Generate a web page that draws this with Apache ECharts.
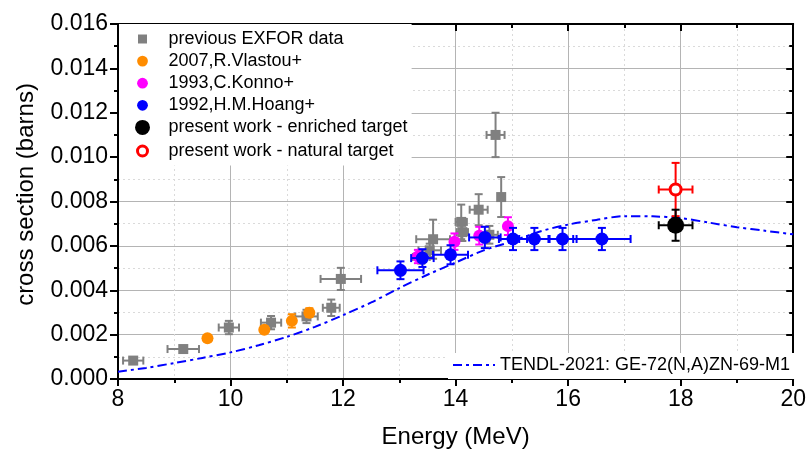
<!DOCTYPE html>
<html><head><meta charset="utf-8">
<script src="https://cdn.jsdelivr.net/npm/echarts@6/dist/echarts.min.js"></script>
<style>html,body{margin:0;padding:0;background:#fff}#c{width:809px;height:454px}</style>
</head><body><div id="c"></div>
<script>
// Each point: [energy (MeV), cross section (b), energy error, cross-section error]
const exforData = [
  [8.27, 0.00083, 0.18, 0.0001],
  [9.16, 0.00135, 0.28, 0.0001],
  [9.97, 0.00232, 0.18, 0.0003],
  [10.72, 0.00254, 0.18, 0.0003],
  [11.35, 0.00282, 0.20, 0.0003],
  [11.79, 0.00321, 0.15, 0.00037],
  [11.96, 0.00451, 0.36, 0.0005],
  [13.39, 0.00550, 0.15, 0.0003],
  [13.54, 0.00580, 0.20, 0.0003],
  [13.60, 0.00630, 0.30, 0.00088],
  [14.10, 0.00708, 0.10, 0.00078],
  [14.12, 0.00662, 0.10, 0.0004],
  [14.41, 0.00763, 0.16, 0.0007],
  [14.60, 0.00650, 0.15, 0.0004],
  [14.71, 0.01100, 0.16, 0.001],
  [14.81, 0.00820, 0.05, 0.0009]
];
const vlastouData = [
  [9.59, 0.00184, 0, 0.0001],
  [10.60, 0.00222, 0, 0.0001],
  [11.09, 0.00262, 0, 0.0003],
  [11.40, 0.00299, 0, 0.0002]
];
const konnoData = [
  [13.33, 0.00552, 0, 0.0003],
  [13.98, 0.00619, 0, 0.00037],
  [14.42, 0.00646, 0, 0.0004],
  [14.93, 0.00689, 0, 0.0004]
];
const hoangData = [
  [13.02, 0.00490, 0.41, 0.0004],
  [13.41, 0.00545, 0.20, 0.0004],
  [13.91, 0.00560, 0.31, 0.00043],
  [14.52, 0.00638, 0.28, 0.00048],
  [15.02, 0.00631, 0.25, 0.0005],
  [15.40, 0.00631, 0.27, 0.0005],
  [15.90, 0.00631, 0.25, 0.0005],
  [16.60, 0.00631, 0.51, 0.0005]
];
const enrichedData = [[17.91, 0.00693, 0.30, 0.0007]];
const naturalData = [[17.91, 0.00854, 0.30, 0.0012]];

const tendlEnergy = [8.0, 8.5, 9.0, 9.5, 10.0, 10.5, 11.0, 11.5, 12.0, 12.5, 13.0, 13.5, 14.0, 14.5, 15.0, 15.5, 16.0, 16.5, 17.0, 17.5, 18.0, 18.5, 19.0, 19.5, 20.0];
const tendlXs = [0.00033, 0.00050, 0.00072, 0.00095, 0.00120, 0.00152, 0.00190, 0.00235, 0.00288, 0.00345, 0.00410, 0.00470, 0.00525, 0.00580, 0.00620, 0.00665, 0.00696, 0.00717, 0.00734, 0.00733, 0.00725, 0.00705, 0.00684, 0.00668, 0.00652];

const seriesNames = ['previous EXFOR data', '2007,R.Vlastou+', '1993,C.Konno+', '1992,H.M.Hoang+', 'present work - enriched target', 'present work - natural target'];
const tendlName = 'TENDL-2021: GE-72(N,A)ZN-69-M1';
const xMin = 8, xMax = 20, xStep = 2;
const yMin = 0, yMax = 0.016, yStep = 0.002;

const FONT = 'Liberation Sans, Arial, sans-serif';

function makeRender(st) {
  return function (params, api) {
    const x = api.value(0), y = api.value(1), dx = api.value(2), dy = api.value(3);
    const c = api.coord([x, y]);
    const cap = 4;
    const ls = { stroke: st.bar, lineWidth: 2 };
    const ch = [];
    if (dx > 0) {
      const l = api.coord([x - dx, y]), r = api.coord([x + dx, y]);
      ch.push({ type: 'line', shape: { x1: l[0], y1: c[1], x2: r[0], y2: c[1] }, style: ls });
      ch.push({ type: 'line', shape: { x1: l[0], y1: c[1] - cap, x2: l[0], y2: c[1] + cap }, style: ls });
      ch.push({ type: 'line', shape: { x1: r[0], y1: c[1] - cap, x2: r[0], y2: c[1] + cap }, style: ls });
    }
    if (dy > 0) {
      const t = api.coord([x, y + dy]), b = api.coord([x, y - dy]);
      ch.push({ type: 'line', shape: { x1: c[0], y1: t[1], x2: c[0], y2: b[1] }, style: ls });
      ch.push({ type: 'line', shape: { x1: c[0] - cap, y1: t[1], x2: c[0] + cap, y2: t[1] }, style: ls });
      ch.push({ type: 'line', shape: { x1: c[0] - cap, y1: b[1], x2: c[0] + cap, y2: b[1] }, style: ls });
    }
    if (st.shape === 'rect') {
      ch.push({ type: 'rect', shape: { x: c[0] - st.size / 2, y: c[1] - st.size / 2, width: st.size, height: st.size }, style: { fill: st.fill } });
    } else {
      ch.push({ type: 'circle', shape: { cx: c[0], cy: c[1], r: st.r }, style: { fill: st.fill, stroke: st.stroke || null, lineWidth: st.sw || 0 } });
    }
    return { type: 'group', children: ch };
  };
}

function errSeries(name, data, st, z) {
  return {
    name: name, type: 'custom', data: data, z: z,
    encode: { x: 0, y: 1 },
    itemStyle: { color: st.stroke || st.fill },
    renderItem: makeRender(st)
  };
}

const BOX = 'path://M0,0L0,0M42,18L42,18';
function circ(r) { return BOX + 'M' + (21 - r) + ',9A' + r + ',' + r + ',0,1,1,' + (21 + r) + ',9A' + r + ',' + r + ',0,1,1,' + (21 - r) + ',9Z'; }
const sqIcon = BOX + 'M16.5,4.5L25.5,4.5L25.5,13.5L16.5,13.5Z';

const axisLineStyle = { color: '#000', width: 2 };

const option = {
  animation: false,
  backgroundColor: '#fff',
  grid: { left: 118, right: 15, top: 24, bottom: 72 },
  legend: [
    {
      left: 119, top: 24, orient: 'vertical',
      padding: [6, 4, 4, 1],
      backgroundColor: '#fff',
      itemWidth: 42, itemHeight: 18, itemGap: 4.1,
      textStyle: { fontFamily: FONT, fontSize: 18, color: '#000' },
      data: [
        { name: seriesNames[0], icon: sqIcon, itemStyle: { color: '#808080' } },
        { name: seriesNames[1], icon: circ(5.4), itemStyle: { color: '#ff8c00' } },
        { name: seriesNames[2], icon: circ(5.4), itemStyle: { color: '#ff00ff' } },
        { name: seriesNames[3], icon: circ(5.4), itemStyle: { color: '#0000ff' } },
        { name: seriesNames[4], icon: circ(7.5), itemStyle: { color: '#000' } },
        { name: seriesNames[5], icon: circ(5), itemStyle: { color: '#fff', borderColor: '#ff0000', borderWidth: 3 } }
      ]
    },
    {
      left: 448, top: 353,
      padding: [3, 8, 5, 4],
      backgroundColor: '#fff',
      itemWidth: 42, itemHeight: 18,
      textStyle: { fontFamily: FONT, fontSize: 18, color: '#000' },
      data: [{ name: tendlName, itemStyle: { color: 'rgba(0,0,0,0)', borderWidth: 0, opacity: 0 } }]
    }
  ],
  xAxis: [
    {
      type: 'value', min: xMin, max: xMax, interval: xStep,
      name: 'Energy (MeV)', nameLocation: 'middle', nameGap: 46,
      nameTextStyle: { fontFamily: FONT, fontSize: 24, color: '#000' },
      axisLine: { show: true, onZero: false, lineStyle: axisLineStyle },
      axisTick: { show: true, length: 7, lineStyle: { color: '#000', width: 2 } },
      minorTick: { show: true, splitNumber: 2, length: 4, lineStyle: { color: '#000', width: 2 } },
      axisLabel: { fontFamily: FONT, fontSize: 23, color: '#000', margin: 9 },
      splitLine: { show: true, lineStyle: { color: '#b4b4b4', width: 1 } },
      minorSplitLine: { show: true, lineStyle: { color: '#dadada', width: 1, type: [2, 3] } }
    },
    {
      type: 'value', position: 'top', min: xMin, max: xMax, interval: xStep,
      axisLine: { show: true, onZero: false, lineStyle: axisLineStyle },
      axisTick: { show: true, inside: true, length: 7, lineStyle: { color: '#000', width: 2 } },
      minorTick: { show: true, splitNumber: 2, length: 4, lineStyle: { color: '#000', width: 2 } },
      axisLabel: { show: false },
      splitLine: { show: false }
    }
  ],
  yAxis: [
    {
      type: 'value', min: yMin, max: yMax, interval: yStep,
      name: 'cross section (barns)', nameLocation: 'middle', nameGap: 80,
      nameTextStyle: { fontFamily: FONT, fontSize: 24, color: '#000', padding: [0, 0, 0, 14] },
      axisLine: { show: true, onZero: false, lineStyle: axisLineStyle },
      axisTick: { show: true, length: 8, lineStyle: { color: '#000', width: 2 } },
      minorTick: { show: true, splitNumber: 2, length: 4, lineStyle: { color: '#000', width: 2 } },
      axisLabel: { fontFamily: FONT, fontSize: 23, color: '#000', margin: 10, formatter: v => v.toFixed(3) },
      splitLine: { show: true, lineStyle: { color: '#b4b4b4', width: 1 } },
      minorSplitLine: { show: true, lineStyle: { color: '#dadada', width: 1, type: [2, 3] } }
    },
    {
      type: 'value', position: 'right', min: yMin, max: yMax, interval: yStep,
      axisLine: { show: true, onZero: false, lineStyle: axisLineStyle },
      axisTick: { show: true, inside: true, length: 7, lineStyle: { color: '#000', width: 2 } },
      minorTick: { show: true, splitNumber: 2, length: 4, lineStyle: { color: '#000', width: 2 } },
      axisLabel: { show: false },
      splitLine: { show: false }
    }
  ],
  series: [
    {
      name: tendlName, type: 'line', z: 2,
      data: tendlEnergy.map((e, i) => [e, tendlXs[i]]),
      symbol: 'none', showSymbol: false, smooth: 0.3,
      lineStyle: { color: '#0000ff', width: 2, type: [9, 4, 3, 4] },
      itemStyle: { color: '#0000ff' }
    },
    errSeries(seriesNames[0], exforData, { shape: 'rect', size: 10, fill: '#808080', bar: '#808080' }, 3),
    errSeries(seriesNames[1], vlastouData, { shape: 'circle', r: 6, fill: '#ff8c00', bar: '#ff8c00' }, 4),
    errSeries(seriesNames[2], konnoData, { shape: 'circle', r: 6, fill: '#ff00ff', bar: '#ff00ff' }, 5),
    errSeries(seriesNames[3], hoangData, { shape: 'circle', r: 6.5, fill: '#0000ff', bar: '#0000ff' }, 6),
    errSeries(seriesNames[5], naturalData, { shape: 'circle', r: 5.5, fill: '#fff', stroke: '#ff0000', sw: 3, bar: '#ff0000' }, 7),
    errSeries(seriesNames[4], enrichedData, { shape: 'circle', r: 8.5, fill: '#000', bar: '#000' }, 8)
  ]
};

const chart = echarts.init(document.getElementById('c'), null, { renderer: 'canvas' });
chart.setOption(option);
</script>
</body></html>
